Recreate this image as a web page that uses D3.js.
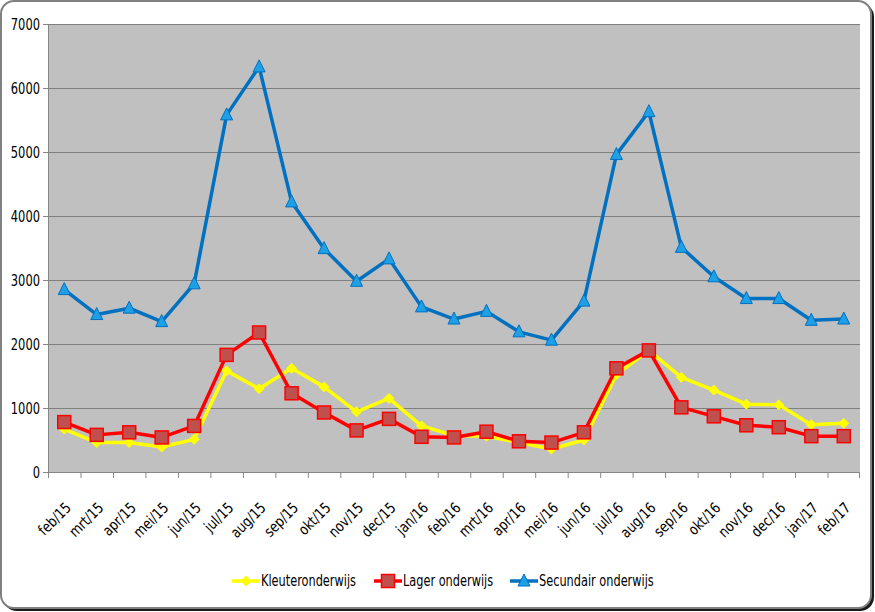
<!DOCTYPE html>
<html>
<head>
<meta charset="utf-8">
<script src="https://cdn.jsdelivr.net/npm/d3@7"></script>
<style>
  html, body { margin: 0; padding: 0; background: #ffffff; }
  svg text { font-family: "DejaVu Sans Condensed", "DejaVu Sans", sans-serif; fill: #000; }
</style>
</head>
<body>
<div id="chart"></div>
<script>
const months = [
  "feb/15", "mrt/15", "apr/15", "mei/15", "jun/15", "jul/15", "aug/15", "sep/15",
  "okt/15", "nov/15", "dec/15", "jan/16", "feb/16", "mrt/16", "apr/16", "mei/16",
  "jun/16", "jul/16", "aug/16", "sep/16", "okt/16", "nov/16", "dec/16", "jan/17", "feb/17"
];

const kleuter = [
  670, 460, 460, 390, 510, 1580, 1300, 1620, 1330, 940, 1150, 720, 570,
  560, 460, 360, 500, 1520, 1900, 1480, 1280, 1060, 1050, 740, 760
];

const lager = [
  780, 580, 620, 540, 720, 1830, 2180, 1230, 930, 650, 830, 550, 540,
  630, 480, 460, 620, 1620, 1900, 1010, 870, 730, 700, 560, 560
];

const secundair = [
  2850, 2460, 2560, 2350, 2940, 5580, 6330, 4220, 3490, 2980, 3330, 2580, 2390,
  2510, 2190, 2060, 2670, 4960, 5630, 3510, 3050, 2710, 2710, 2370, 2390
];

const yTicks = [0, 1000, 2000, 3000, 4000, 5000, 6000, 7000];

const seriesNames = ["Kleuteronderwijs", "Lager onderwijs", "Secundair onderwijs"];

const width = 875;
const height = 612;
const plot = { left: 48, right: 860, top: 24, bottom: 472 };

const svg = d3.select("#chart")
  .append("svg")
  .attr("width", width)
  .attr("height", height);

// kader met schaduw
svg.append("rect")
  .attr("x", 3).attr("y", 3)
  .attr("width", width - 4).attr("height", height - 4)
  .attr("rx", 14)
  .attr("fill", "#1a1a1a");

svg.append("rect")
  .attr("x", 1).attr("y", 1)
  .attr("width", width - 5).attr("height", height - 5)
  .attr("rx", 13)
  .attr("fill", "#ffffff")
  .attr("stroke", "#808080")
  .attr("stroke-width", 2);

const x = d3.scaleBand()
  .domain(months)
  .range([plot.left, plot.right]);

const y = d3.scaleLinear()
  .domain([0, 7000])
  .range([plot.bottom, plot.top]);

// grijze plotzone
svg.append("rect")
  .attr("x", plot.left)
  .attr("y", plot.top)
  .attr("width", plot.right - plot.left)
  .attr("height", plot.bottom - plot.top)
  .attr("fill", "#c0c0c0");

// rasterlijnen
svg.append("g")
  .selectAll("line")
  .data(yTicks.filter(t => t > 0))
  .enter()
  .append("line")
  .attr("x1", plot.left)
  .attr("x2", plot.right)
  .attr("y1", d => y(d) + 0.5)
  .attr("y2", d => y(d) + 0.5)
  .attr("stroke", "#7f7f7f")
  .attr("stroke-width", 1);

// tekst wat smaller maken (Calibri-achtig)
function squeeze(sel, f) {
  sel.each(function() {
    const w = this.getComputedTextLength();
    d3.select(this)
      .attr("textLength", w * f)
      .attr("lengthAdjust", "spacingAndGlyphs");
  });
}

// y-as
const yAxis = svg.append("g")
  .attr("transform", `translate(${plot.left},0)`)
  .call(d3.axisLeft(y).tickValues(yTicks).tickSize(5).tickPadding(3).tickFormat(d3.format("d")));

yAxis.select(".domain").attr("stroke", "#868686");
yAxis.selectAll(".tick line").attr("stroke", "#868686");
yAxis.selectAll("text")
  .style("font-size", "15px")
  .attr("dy", "0.35em")
  .call(squeeze, 0.85);

// x-as
const xAxis = svg.append("g")
  .attr("transform", `translate(0,${plot.bottom})`)
  .call(d3.axisBottom(x).tickSize(0).tickPadding(0));

xAxis.select(".domain")
  .attr("stroke", "#868686")
  .attr("d", `M${plot.left},0.5H${plot.right}`);

xAxis.selectAll(".tick text")
  .attr("y", 0)
  .attr("x", 0)
  .attr("dy", "0.35em")
  .attr("text-anchor", "end")
  .attr("transform", "translate(4,33) rotate(-45)")
  .style("font-size", "15px")
  .call(squeeze, 0.9);

// streepjes tussen de categorieën
svg.append("g")
  .selectAll("line")
  .data(months)
  .enter()
  .append("line")
  .attr("x1", d => x(d) + 0.5)
  .attr("x2", d => x(d) + 0.5)
  .attr("y1", plot.bottom)
  .attr("y2", plot.bottom + 6)
  .attr("stroke", "#868686");

svg.append("line")
  .attr("x1", plot.right - 0.5).attr("x2", plot.right - 0.5)
  .attr("y1", plot.bottom).attr("y2", plot.bottom + 6)
  .attr("stroke", "#868686");

const cx = d => x(d) + x.bandwidth() / 2;

const line = d3.line()
  .x((d, i) => cx(months[i]))
  .y(d => y(d));

function drawDiamond(g, xp, yp, s) {
  g.append("path")
    .attr("d", `M${xp},${yp - s}L${xp + s},${yp}L${xp},${yp + s}L${xp - s},${yp}Z`)
    .attr("fill", "#ffff00")
    .attr("stroke", "#ffff00")
    .attr("stroke-width", 1);
}

function drawSquare(g, xp, yp, s) {
  g.append("rect")
    .attr("x", xp - s).attr("y", yp - s)
    .attr("width", 2 * s).attr("height", 2 * s)
    .attr("fill", "#c0504d")
    .attr("stroke", "#ff0000")
    .attr("stroke-width", 1.5);
}

function drawTriangle(g, xp, yp, s) {
  g.append("path")
    .attr("d", `M${xp},${yp - s - 1}L${xp + s},${yp + s - 1}L${xp - s},${yp + s - 1}Z`)
    .attr("fill", "#1ea0e6")
    .attr("stroke", "#0070c0")
    .attr("stroke-width", 1);
}

const series = [
  { name: seriesNames[0], values: kleuter, color: "#ffff00", marker: drawDiamond, size: 5 },
  { name: seriesNames[1], values: lager, color: "#ff0000", marker: drawSquare, size: 6.5 },
  { name: seriesNames[2], values: secundair, color: "#0070c0", marker: drawTriangle, size: 6 }
];

series.forEach(s => {
  const g = svg.append("g");
  g.append("path")
    .datum(s.values)
    .attr("d", line)
    .attr("fill", "none")
    .attr("stroke", s.color)
    .attr("stroke-width", 3.5)
    .attr("stroke-linejoin", "round");
  s.values.forEach((v, i) => s.marker(g, cx(months[i]), y(v), s.size));
});

// legende
const legendItems = [
  { x: 232, s: series[0] },
  { x: 374, s: series[1] },
  { x: 510, s: series[2] }
];

const legend = svg.append("g").attr("transform", "translate(0,581)");

legendItems.forEach(d => {
  legend.append("line")
    .attr("x1", d.x).attr("x2", d.x + 28)
    .attr("y1", 0).attr("y2", 0)
    .attr("stroke", d.s.color)
    .attr("stroke-width", 3.5);
  d.s.marker(legend, d.x + 14, 0, d.s.size);
  legend.append("text")
    .attr("x", d.x + 29)
    .attr("y", 0)
    .attr("dy", "0.35em")
    .style("font-size", "15px")
    .text(d.s.name)
    .call(squeeze, 0.84);
});
</script>
</body>
</html>
